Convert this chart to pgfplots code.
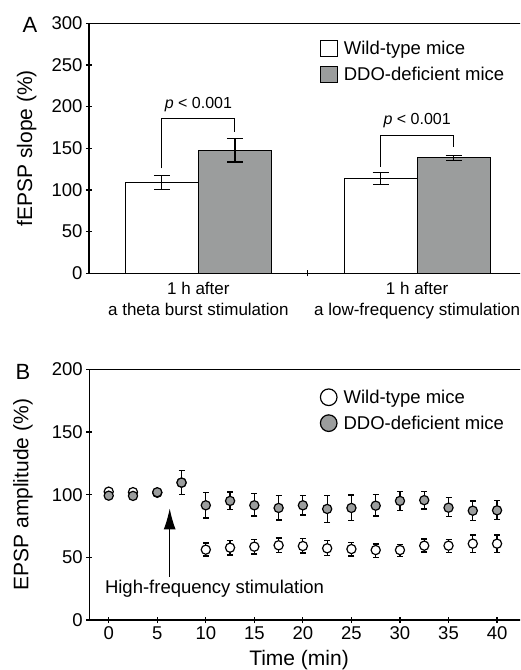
\documentclass[border=0pt]{standalone}
\usepackage{fontspec}
\setmainfont{Liberation Sans}
\usepackage{pgfplots}
\pgfplotsset{compat=1.18}
\usetikzlibrary{arrows.meta}
\definecolor{barg}{RGB}{155,157,157}
\newcommand{\fs}{\fontsize{18.5}{22}\selectfont}
\newcommand{\fl}{\fontsize{21}{25}\selectfont}
\pgfplotsset{
  sqleg/.style={legend image code/.code={\draw[##1] (0pt,-8.3pt) rectangle (16.7pt,8.3pt);}},
  circleg/.style={legend image code/.code={\draw[##1] (8.3pt,0pt) circle (8.3pt);}},
  mystyle/.style={
    scale only axis,
    axis line style={line width=1.5pt},
    tick style={line width=1.2pt, black},
    tick align=center, major tick length=6pt,
    ytick pos=left, xtick pos=bottom,
    xticklabel style={font=\fs},
    yticklabel style={font=\fs},
    /pgf/number format/assume math mode=true,
    legend cell align=left,
    legend style={draw=none, fill=none, anchor=north west, row sep=7pt,
      /tikz/every odd column/.append style={column sep=4pt}},
  },
}
\begin{document}
\begin{tikzpicture}
\path[use as bounding box, clip] (0pt,0pt) rectangle (520pt,670pt);
% ---------- Panel A ----------
\begin{axis}[mystyle,
  at={(89pt,396.7pt)}, anchor=south west,
  width=437.5pt, height=250pt,
  xmin=-0.5, xmax=1.5, ymin=0, ymax=300,
  ytick={0,50,...,300},
  xtick={0.5}, xticklabels={},
  extra x ticks={0,1},
  extra x tick labels={{1 h after\\a theta burst stimulation},{1 h after\\a low-frequency stimulation}},
  extra x tick style={major tick length=0pt, xticklabel style={align=center, font=\fontsize{17}{21}\selectfont, yshift=-5pt}},
  ylabel={fEPSP slope (\%)},
  ylabel style={font=\fl, at={(axis description cs:-0.1424,0.5)}, anchor=center, rotate=0},
  legend style={at={(axis description cs:0.521,0.945)}},
]
\addlegendimage{sqleg, draw=black, fill=white, line width=1pt}
\addlegendentry{\fs Wild-type mice}
\addlegendimage{sqleg, draw=black, fill=barg, line width=1pt}
\addlegendentry{\fs DDO-deficient mice}
\addplot[ybar, bar width=0.334, bar shift=0pt, draw=black, fill=white, line width=1pt,
  error bars/.cd, y dir=both, y explicit,
  error bar style={line width=1.2pt, black},
  error mark options={rotate=90, mark size=8pt, line width=1.2pt, black}]
  coordinates {(-0.167,109) +- (0,8) (0.833,113.5) +- (0,7)};
\addplot[ybar, bar width=0.334, bar shift=0pt, draw=black, fill=barg, line width=1pt,
  error bars/.cd, y dir=both, y explicit,
  error bar style={line width=1.2pt, black},
  error mark options={rotate=90, mark size=8pt, line width=1.2pt, black}]
  coordinates {(0.167,147.5) +- (0,14) (1.167,138.5) +- (0,3)};
\draw[line width=1pt] (axis cs:-0.167,126) -- (axis cs:-0.167,186) -- (axis cs:0.167,186) -- (axis cs:0.167,170);
\draw[line width=1pt] (axis cs:0.833,128) -- (axis cs:0.833,165) -- (axis cs:1.167,165) -- (axis cs:1.167,151);
\node[font=\fontsize{16}{19}\selectfont] at (axis cs:0,202) {\textit{p} < 0.001};
\node[font=\fontsize{16}{19}\selectfont] at (axis cs:1,183) {\textit{p} < 0.001};
\end{axis}
\node[font=\fontsize{22}{26}\selectfont] at (30pt,645pt) {A};
% ---------- Panel B ----------
\begin{axis}[mystyle,
  at={(89.3pt,50pt)}, anchor=south west,
  width=446.6pt, height=250.7pt,
  xmin=-2, xmax=44, ymin=0, ymax=200,
  xtick={0,5,...,40}, ytick={0,50,...,200},
  ylabel={EPSP amplitude (\%)},
  ylabel style={font=\fl, at={(axis description cs:-0.1485,0.5)}, anchor=center, rotate=0},
  xlabel={Time (min)},
  xlabel style={font=\fl, at={(axis description cs:0.4696,0)}, anchor=center, yshift=-40pt},
  legend style={at={(axis description cs:0.509,0.935)}},
]
\addlegendimage{circleg, draw=black, fill=white, line width=1.2pt}
\addlegendentry{\fs Wild-type mice}
\addlegendimage{circleg, draw=black, fill=barg, line width=1.2pt}
\addlegendentry{\fs DDO-deficient mice}
\addplot[only marks, mark=*, mark size=4.6pt, mark options={draw=black, fill=white, line width=1.2pt},
  error bars/.cd, y dir=both, y explicit,
  error bar style={line width=1.2pt, black},
  error mark options={rotate=90, mark size=3pt, line width=1.2pt, black}]
  coordinates {
  (0,102.4) (2.5,102) (5,101.5) (7.5,109.6)
  (10,56.1) += (0,5.3) -= (0,5.1)
  (12.5,57.7) += (0,5.9) -= (0,5.8)
  (15,58.5) += (0,5.9) -= (0,5.8)
  (17.5,59.6) += (0,5.8) -= (0,5.6)
  (20,59) += (0,5.9) -= (0,5.5)
  (22.5,57.2) += (0,6.1) -= (0,5.9)
  (25,56.6) += (0,5.2) -= (0,5.6)
  (27.5,55.8) += (0,4.8) -= (0,5.8)
  (30,55.8) += (0,4.5) -= (0,5)
  (32.5,59.3) += (0,5.3) -= (0,5)
  (35,59.3) += (0,5) -= (0,5.3)
  (37.5,60.9) += (0,6.9) -= (0,6.9)
  (40,60.9) += (0,6.9) -= (0,6.9)
  };
\addplot[only marks, mark=*, mark size=4.6pt, mark options={draw=black, fill=barg, line width=1.2pt},
  error bars/.cd, y dir=both, y explicit,
  error bar style={line width=1.2pt, black},
  error mark options={rotate=90, mark size=3pt, line width=1.2pt, black}]
  coordinates {
  (0,99.2) (2.5,99) (5,101.9)
  (7.5,109.6) += (0,9.8) -= (0,9.6)
  (10,91.5) += (0,10.1) -= (0,10.1)
  (12.5,95) += (0,7.1) -= (0,6.7)
  (15,91.5) += (0,9.3) -= (0,8.5)
  (17.5,89.4) += (0,9.8) -= (0,9.6)
  (20,91.5) += (0,7.7) -= (0,7.7)
  (22.5,88.6) += (0,10.6) -= (0,10.9)
  (25,89.4) += (0,10.3) -= (0,9.8)
  (27.5,91.2) += (0,9) -= (0,8.2)
  (30,95) += (0,7.6) -= (0,7.7)
  (32.5,95.6) += (0,7.2) -= (0,7)
  (35,89.6) += (0,8) -= (0,7.2)
  (37.5,87.2) += (0,7.8) -= (0,7.6)
  (40,87.5) += (0,7.8) -= (0,7.3)
  };
\draw[-{Latex[length=21pt,width=12pt]}, line width=1pt] (axis cs:6.28,34.5) -- (axis cs:6.28,89);
\node[anchor=west, font=\fs, inner sep=0pt] at (axis cs:-0.4,24.7) {High-frequency stimulation};
\end{axis}
\node[font=\fontsize{22}{26}\selectfont] at (23pt,298.3pt) {B};
\end{tikzpicture}
\end{document}
